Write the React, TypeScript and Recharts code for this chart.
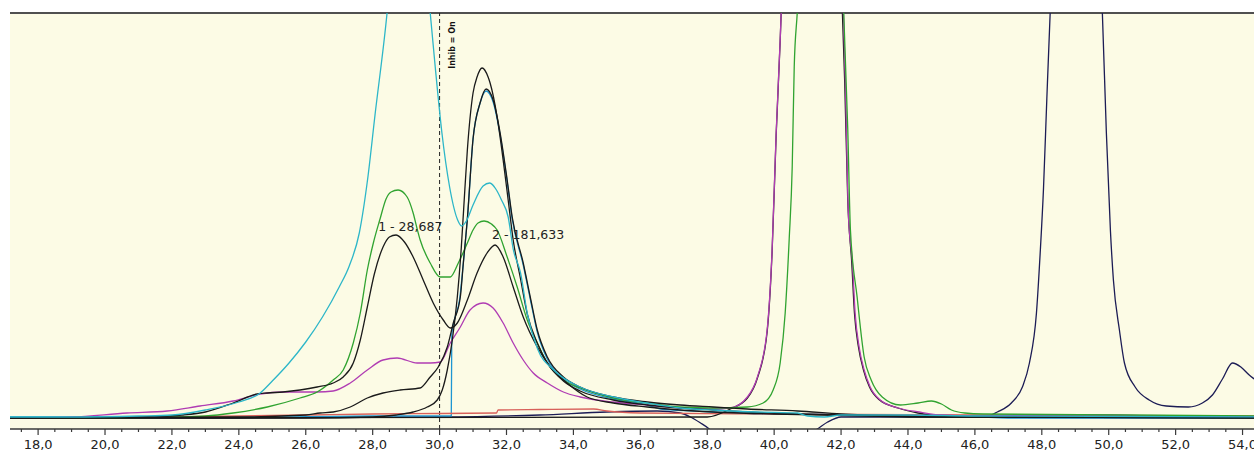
import React from 'react';
import { LineChart, Line, XAxis, YAxis, CartesianGrid, ReferenceLine, ReferenceDot } from 'recharts';

type P = [number, number];

// retention time (min) vs detector response (arbitrary units)
const cyanTrace: P[] = [[17.16,12],[19,12],[21,13],[22,14],[23,19],[24,27],[24.6,35],[25,48],[25.5,66],[26,87],[26.5,112],[27,142],[27.3,163],[27.6,196],[27.85,250],[28.07,314],[28.43,416],[28.75,540],[29.1,600],[29.45,530],[29.72,416],[29.87,362],[30.07,296],[30.3,242],[30.54,209],[30.66,203],[30.8,208],[31.0,224],[31.3,243],[31.5,246],[31.7,239],[31.85,229],[32.05,212],[32.2,180],[32.42,156],[32.63,114],[32.93,80],[33.41,59],[34.2,42],[35.2,32],[36.2,26],[37.2,21],[38.2,19],[39.5,17],[40.7,16],[41.0,13],[41.5,12],[42,14],[44,14],[46,13],[55,12]];

const greenTrace: P[] = [[17.16,11],[20,11],[22,12],[23,13],[23.83,16],[24.85,22],[25.83,31],[26.34,37],[26.82,49],[27.12,59],[27.42,86],[27.63,116],[27.84,159],[28.02,186],[28.22,210],[28.4,230],[28.55,237],[28.76,239],[29.03,232],[29.21,216],[29.33,200],[29.42,189],[29.72,166],[30.02,152],[30.32,152],[30.56,166],[30.83,186],[31.0,199],[31.15,206],[31.33,208],[31.55,205],[31.72,199],[32.02,172],[32.32,142],[32.62,109],[32.92,86],[33.22,66],[33.7,49],[34.2,41],[35.19,31],[36.21,26],[37.19,22],[38.18,21],[39.2,22],[39.67,26],[39.97,39],[40.18,66],[40.33,116],[40.45,190],[40.54,262],[40.6,362],[40.69,416],[40.85,520],[41.3,600],[41.8,530],[42.08,416],[42.2,300],[42.28,199],[42.48,132],[42.69,72],[42.9,49],[43.23,32],[43.77,24],[44.3,26],[44.7,28],[45.0,25],[45.3,19],[45.7,16],[46.25,15],[50.5,14],[55,13]];

const magentaTrace: P[] = [[17.16,11],[19,12],[20.66,16],[21.86,18],[22.84,23],[23.83,28],[24.64,35],[25.32,37],[26.34,37],[26.82,38],[27.33,46],[27.84,59],[28.31,69],[28.73,71],[29.33,66],[29.72,66],[30.02,67],[30.32,86],[30.62,102],[30.91,119],[31.3,126],[31.6,121],[31.9,106],[32.2,86],[32.5,69],[32.8,56],[33.22,46],[33.7,37],[34.2,32],[35.19,27],[36.21,24],[37.19,21],[38.18,20],[38.69,21],[39.2,32],[39.5,52],[39.79,99],[39.94,180],[40.06,296],[40.18,389],[40.21,416],[40.4,560],[41.0,680],[41.8,540],[42.07,416],[42.13,346],[42.22,214],[42.34,166],[42.42,116],[42.54,82],[42.69,59],[42.87,42],[43.17,29],[43.71,21],[44.34,17],[45,14],[46,13],[48,14],[50,14],[51.5,13],[55,12]];

const blackPeaksTrace: P[] = [[17.16,11],[21,12],[22.3,14],[23,17],[23.83,26],[24.55,35],[24.85,36],[25.32,37],[25.83,39],[26.34,42],[26.82,46],[27.12,52],[27.42,66],[27.63,89],[27.84,122],[28.05,155],[28.31,182],[28.5,192],[28.7,194],[28.95,187],[29.21,172],[29.51,149],[29.81,126],[30.11,109],[30.32,101],[30.53,106],[30.83,129],[31.12,156],[31.42,176],[31.66,184],[31.9,172],[32.2,142],[32.5,112],[32.92,82],[33.31,62],[33.81,46],[34.41,32],[35.19,26],[36.21,22],[37.19,19],[38.18,17],[40,15],[43,13],[46,12],[55,11]];

const shoulderTrace: P[] = [[17.16,11],[24,12],[26.0,14],[26.43,16],[26.82,17],[27.33,22],[27.84,31],[28.31,36],[28.82,39],[29.42,41],[29.72,52],[29.96,62],[30.23,82],[30.41,106],[30.62,132],[30.71,166],[30.83,210],[31.0,290],[31.21,326],[31.39,340],[31.6,329],[31.81,296],[32.02,249],[32.17,212],[32.5,166],[32.71,132],[32.92,99],[33.22,72],[33.7,52],[34.2,42],[35.19,32],[36.21,27],[37.19,24],[38.18,22],[39.2,20],[40.7,18],[42,15],[44,13],[46,12],[55,11]];

const tallTrace: P[] = [[17.16,11],[26,11],[28,12],[28.7,14],[29.21,17],[29.63,22],[29.93,29],[30.08,39],[30.23,59],[30.38,89],[30.53,132],[30.65,182],[30.72,220],[30.83,279],[31.0,336],[31.12,352],[31.27,361],[31.45,352],[31.51,346],[31.72,312],[31.9,269],[32.05,229],[32.2,189],[32.42,150],[32.62,115],[32.92,86],[33.22,66],[33.7,48],[34.2,38],[35.19,29],[36.21,24],[37.19,21],[38.18,19],[39.2,17],[40.7,15],[42,14],[44,12],[55,11]];

const blueTrace: P[] = [[17.16,12],[25,12],[28,13],[30.35,13],[30.365,95],[30.45,110],[30.6,130],[30.71,166],[30.83,210],[31.0,290],[31.21,326],[31.39,338],[31.6,327],[31.81,294],[32.02,247],[32.17,210],[32.5,164],[32.71,130],[32.92,97],[33.22,70],[33.7,50],[34.2,40],[35.19,30],[36.21,24],[36.6,20],[37.6,18],[38.18,17],[40,15],[41,15],[43,13],[46,12],[47,11],[55,11]];

const navyTrace: P[] = [[17.16,11],[24,11],[30,12],[33,14],[35,17],[36.5,18],[37.19,16],[37.5,12],[37.8,6],[38.06,0],[38.4,-12],[39.5,-25],[40.7,-12],[41.29,0],[41.6,7],[42.0,12],[44,12],[46.3,12],[46.67,17],[47.09,26],[47.42,42],[47.63,66],[47.84,116],[47.95,175],[48.05,240],[48.15,330],[48.25,416],[48.6,600],[49.0,680],[49.45,600],[49.81,416],[49.93,296],[50.05,199],[50.14,149],[50.32,99],[50.47,66],[50.79,42],[51.21,29],[51.72,23],[52.38,22],[52.8,26],[53.1,34],[53.4,50],[53.7,66],[53.95,62],[54.2,54],[54.35,50],[55,35]];

const blackBigTrace: P[] = [[17.16,11],[38,12],[38.69,20],[39.2,31],[39.5,51],[39.79,97],[39.94,178],[40.06,294],[40.18,388],[40.21,416],[40.4,560],[41.0,680],[41.8,560],[42.04,416],[42.11,346],[42.2,229],[42.32,166],[42.4,116],[42.52,82],[42.67,59],[42.85,42],[43.15,29],[43.7,21],[44.3,16],[45,13],[55,12]];

const redTrace: P[] = [[17.16,11],[22,12],[24,13],[26,14],[28,15],[30,15.5],[31.7,16],[31.75,19],[33,19.5],[34.6,20],[35,18],[36,16],[40,15],[46,14],[55,13]];

const majorTicks = [18, 20, 22, 24, 26, 28, 30, 32, 34, 36, 38, 40, 42, 44, 46, 48, 50, 52, 54];
const axisTicks = Array.from({ length: 75 }, (_, i) => 17.5 + i * 0.5);

const peakLabels = [
  { x: 28.165, y: 202, text: '1 - 28,687' },
  { x: 31.57, y: 194, text: '2 - 181,633' },
];

const X_DOMAIN: [number, number] = [17.16, 55];
const Y_DOMAIN: [number, number] = [0, 416];

const toPts = (a: P[]) => a.map(([x, y]) => ({ x, y }));

const AxisTick = (props: any) => {
  const { x, y, payload } = props;
  const v = payload.value as number;
  const major = majorTicks.some((m) => Math.abs(m - v) < 1e-6);
  return (
    <g>
      <line x1={x} x2={x} y1={y} y2={y + (major ? 6 : 3)} stroke="#3a3a3a" strokeWidth={1.2} />
      {major && (
        <text x={x} y={y + 20} textAnchor="middle" fontSize={13} fill="#222">
          {v.toFixed(1).replace('.', ',')}
        </text>
      )}
    </g>
  );
};

const InhibLabel = (props: any) => {
  const { viewBox } = props;
  const cx = viewBox.x + (viewBox.width || 0) / 2;
  const cy = viewBox.y + (viewBox.height || 0) / 2;
  return (
    <text
      x={cx}
      y={cy}
      transform={`rotate(-90 ${cx} ${cy})`}
      textAnchor="middle"
      dominantBaseline="central"
      fontSize={8}
      fontWeight="bold"
      fill="#111"
    >
      Inhib = On
    </text>
  );
};

const series: { data: P[]; color: string }[] = [
  { data: navyTrace, color: '#1c1c55' },
  { data: blueTrace, color: '#1e96d2' },
  { data: redTrace, color: '#d8605a' },
  { data: blackBigTrace, color: '#1a1a1a' },
  { data: magentaTrace, color: '#b03cb3' },
  { data: greenTrace, color: '#30a330' },
  { data: blackPeaksTrace, color: '#1a1a1a' },
  { data: shoulderTrace, color: '#1a1a1a' },
  { data: tallTrace, color: '#1a1a1a' },
  { data: cyanTrace, color: '#2cb6c8' },
];

export default function App() {
  return (
    <div
      style={{
        position: 'absolute',
        left: 0,
        top: 0,
        width: 1254,
        height: 460,
        overflow: 'hidden',
        background: '#fff',
        fontFamily: '"DejaVu Sans", Verdana, sans-serif',
      }}
    >
      <LineChart width={1280} height={460} margin={{ top: 13, right: 4, bottom: 0, left: 10 }}>
        <CartesianGrid fill="#fcfbe5" stroke="none" horizontal={false} vertical={false} />
        <XAxis
          type="number"
          dataKey="x"
          domain={X_DOMAIN}
          allowDataOverflow
          ticks={axisTicks}
          interval={0}
          tickSize={0}
          tickMargin={0}
          tickLine={false}
          tick={<AxisTick />}
          axisLine={{ stroke: '#3a3a3a', strokeWidth: 1.5 }}
          height={31}
        />
        <YAxis hide type="number" domain={Y_DOMAIN} allowDataOverflow />
        <ReferenceLine y={416} stroke="#505050" strokeWidth={2} />
        <ReferenceLine x={30} stroke="#222" strokeDasharray="4 3" strokeWidth={1} />
        {series.map((s, i) => (
          <Line
            key={i}
            data={toPts(s.data)}
            dataKey="y"
            type="monotone"
            stroke={s.color}
            strokeWidth={1.3}
            dot={false}
            activeDot={false}
            isAnimationActive={false}
          />
        ))}
        {peakLabels.map((l, i) => (
          <ReferenceDot
            key={i}
            x={l.x}
            y={l.y}
            r={0}
            fill="none"
            stroke="none"
            label={{ value: l.text, position: 'right', offset: 0, fontSize: 12.5, fill: '#222' }}
          />
        ))}
        <ReferenceDot x={30.377} y={384} r={0} fill="none" stroke="none" label={<InhibLabel />} />
      </LineChart>
    </div>
  );
}
